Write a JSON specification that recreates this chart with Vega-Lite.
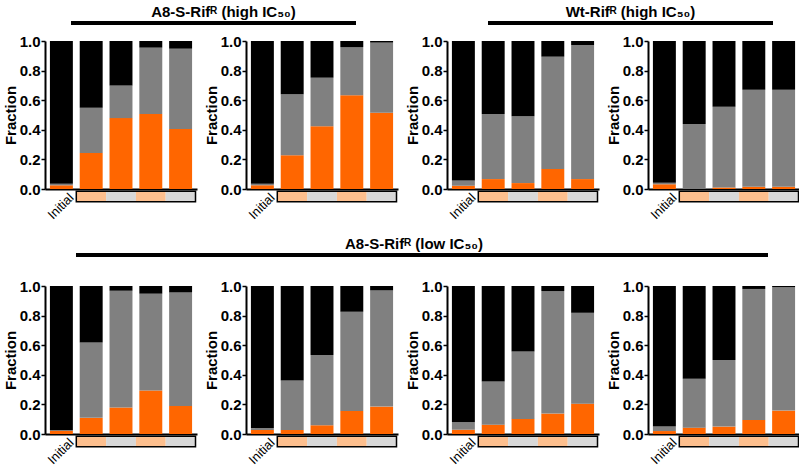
{
  "$schema": "https://vega.github.io/schema/vega-lite/v6.json",
  "padding": {"left": 3, "top": 1, "right": 0, "bottom": 0},
  "config": {
    "view": {"stroke": null},
    "font": "Liberation Sans",
    "axis": {"labelFont": "Liberation Sans", "titleFont": "Liberation Sans", "labelColor": "black", "titleColor": "black", "domainColor": "black", "tickColor": "black", "grid": false},
    "axisY": {"labelFontSize": 15, "labelFontWeight": "bold", "titleFontSize": 15, "titleFontWeight": "bold", "domainWidth": 2, "tickWidth": 1.5, "tickSize": 4, "labelPadding": 1, "titlePadding": 1, "labelOverlap": false},
    "axisX": {"domainWidth": 2, "labelFontSize": 13, "labelFontWeight": "normal", "labelOverlap": false}
  },
  "datasets": {
    "strip": [
      {"stage": "T1", "cond": "treated"},
      {"stage": "T2", "cond": "untreated"},
      {"stage": "T3", "cond": "treated"},
      {"stage": "T4", "cond": "untreated"}
    ],
    "bars": [
      {"panel": "A1", "stage": "Initial", "comp": "orange", "frac": 0.025}, {"panel": "A1", "stage": "Initial", "comp": "gray", "frac": 0.01}, {"panel": "A1", "stage": "Initial", "comp": "black", "frac": 0.965},
      {"panel": "A1", "stage": "T1", "comp": "orange", "frac": 0.244}, {"panel": "A1", "stage": "T1", "comp": "gray", "frac": 0.305}, {"panel": "A1", "stage": "T1", "comp": "black", "frac": 0.451},
      {"panel": "A1", "stage": "T2", "comp": "orange", "frac": 0.479}, {"panel": "A1", "stage": "T2", "comp": "gray", "frac": 0.221}, {"panel": "A1", "stage": "T2", "comp": "black", "frac": 0.3},
      {"panel": "A1", "stage": "T3", "comp": "orange", "frac": 0.506}, {"panel": "A1", "stage": "T3", "comp": "gray", "frac": 0.449}, {"panel": "A1", "stage": "T3", "comp": "black", "frac": 0.045},
      {"panel": "A1", "stage": "T4", "comp": "orange", "frac": 0.406}, {"panel": "A1", "stage": "T4", "comp": "gray", "frac": 0.542}, {"panel": "A1", "stage": "T4", "comp": "black", "frac": 0.052},

      {"panel": "A2", "stage": "Initial", "comp": "orange", "frac": 0.025}, {"panel": "A2", "stage": "Initial", "comp": "gray", "frac": 0.01}, {"panel": "A2", "stage": "Initial", "comp": "black", "frac": 0.965},
      {"panel": "A2", "stage": "T1", "comp": "orange", "frac": 0.228}, {"panel": "A2", "stage": "T1", "comp": "gray", "frac": 0.413}, {"panel": "A2", "stage": "T1", "comp": "black", "frac": 0.359},
      {"panel": "A2", "stage": "T2", "comp": "orange", "frac": 0.424}, {"panel": "A2", "stage": "T2", "comp": "gray", "frac": 0.328}, {"panel": "A2", "stage": "T2", "comp": "black", "frac": 0.248},
      {"panel": "A2", "stage": "T3", "comp": "orange", "frac": 0.634}, {"panel": "A2", "stage": "T3", "comp": "gray", "frac": 0.325}, {"panel": "A2", "stage": "T3", "comp": "black", "frac": 0.041},
      {"panel": "A2", "stage": "T4", "comp": "orange", "frac": 0.515}, {"panel": "A2", "stage": "T4", "comp": "gray", "frac": 0.474}, {"panel": "A2", "stage": "T4", "comp": "black", "frac": 0.011},

      {"panel": "W1", "stage": "Initial", "comp": "orange", "frac": 0.022}, {"panel": "W1", "stage": "Initial", "comp": "gray", "frac": 0.036}, {"panel": "W1", "stage": "Initial", "comp": "black", "frac": 0.942},
      {"panel": "W1", "stage": "T1", "comp": "orange", "frac": 0.067}, {"panel": "W1", "stage": "T1", "comp": "gray", "frac": 0.439}, {"panel": "W1", "stage": "T1", "comp": "black", "frac": 0.494},
      {"panel": "W1", "stage": "T2", "comp": "orange", "frac": 0.04}, {"panel": "W1", "stage": "T2", "comp": "gray", "frac": 0.452}, {"panel": "W1", "stage": "T2", "comp": "black", "frac": 0.508},
      {"panel": "W1", "stage": "T3", "comp": "orange", "frac": 0.135}, {"panel": "W1", "stage": "T3", "comp": "gray", "frac": 0.759}, {"panel": "W1", "stage": "T3", "comp": "black", "frac": 0.106},
      {"panel": "W1", "stage": "T4", "comp": "orange", "frac": 0.067}, {"panel": "W1", "stage": "T4", "comp": "gray", "frac": 0.906}, {"panel": "W1", "stage": "T4", "comp": "black", "frac": 0.027},

      {"panel": "W2", "stage": "Initial", "comp": "orange", "frac": 0.032}, {"panel": "W2", "stage": "Initial", "comp": "gray", "frac": 0.01}, {"panel": "W2", "stage": "Initial", "comp": "black", "frac": 0.958},
      {"panel": "W2", "stage": "T1", "comp": "orange", "frac": 0.0}, {"panel": "W2", "stage": "T1", "comp": "gray", "frac": 0.44}, {"panel": "W2", "stage": "T1", "comp": "black", "frac": 0.56},
      {"panel": "W2", "stage": "T2", "comp": "orange", "frac": 0.01}, {"panel": "W2", "stage": "T2", "comp": "gray", "frac": 0.545}, {"panel": "W2", "stage": "T2", "comp": "black", "frac": 0.445},
      {"panel": "W2", "stage": "T3", "comp": "orange", "frac": 0.015}, {"panel": "W2", "stage": "T3", "comp": "gray", "frac": 0.655}, {"panel": "W2", "stage": "T3", "comp": "black", "frac": 0.33},
      {"panel": "W2", "stage": "T4", "comp": "orange", "frac": 0.015}, {"panel": "W2", "stage": "T4", "comp": "gray", "frac": 0.655}, {"panel": "W2", "stage": "T4", "comp": "black", "frac": 0.33},

      {"panel": "L1", "stage": "Initial", "comp": "orange", "frac": 0.022}, {"panel": "L1", "stage": "Initial", "comp": "gray", "frac": 0.004}, {"panel": "L1", "stage": "Initial", "comp": "black", "frac": 0.974},
      {"panel": "L1", "stage": "T1", "comp": "orange", "frac": 0.109}, {"panel": "L1", "stage": "T1", "comp": "gray", "frac": 0.509}, {"panel": "L1", "stage": "T1", "comp": "black", "frac": 0.382},
      {"panel": "L1", "stage": "T2", "comp": "orange", "frac": 0.179}, {"panel": "L1", "stage": "T2", "comp": "gray", "frac": 0.789}, {"panel": "L1", "stage": "T2", "comp": "black", "frac": 0.032},
      {"panel": "L1", "stage": "T3", "comp": "orange", "frac": 0.294}, {"panel": "L1", "stage": "T3", "comp": "gray", "frac": 0.654}, {"panel": "L1", "stage": "T3", "comp": "black", "frac": 0.052},
      {"panel": "L1", "stage": "T4", "comp": "orange", "frac": 0.19}, {"panel": "L1", "stage": "T4", "comp": "gray", "frac": 0.767}, {"panel": "L1", "stage": "T4", "comp": "black", "frac": 0.043},

      {"panel": "L2", "stage": "Initial", "comp": "orange", "frac": 0.027}, {"panel": "L2", "stage": "Initial", "comp": "gray", "frac": 0.013}, {"panel": "L2", "stage": "Initial", "comp": "black", "frac": 0.96},
      {"panel": "L2", "stage": "T1", "comp": "orange", "frac": 0.027}, {"panel": "L2", "stage": "T1", "comp": "gray", "frac": 0.334}, {"panel": "L2", "stage": "T1", "comp": "black", "frac": 0.639},
      {"panel": "L2", "stage": "T2", "comp": "orange", "frac": 0.059}, {"panel": "L2", "stage": "T2", "comp": "gray", "frac": 0.474}, {"panel": "L2", "stage": "T2", "comp": "black", "frac": 0.467},
      {"panel": "L2", "stage": "T3", "comp": "orange", "frac": 0.156}, {"panel": "L2", "stage": "T3", "comp": "gray", "frac": 0.67}, {"panel": "L2", "stage": "T3", "comp": "black", "frac": 0.174},
      {"panel": "L2", "stage": "T4", "comp": "orange", "frac": 0.185}, {"panel": "L2", "stage": "T4", "comp": "gray", "frac": 0.785}, {"panel": "L2", "stage": "T4", "comp": "black", "frac": 0.03},

      {"panel": "L3", "stage": "Initial", "comp": "orange", "frac": 0.029}, {"panel": "L3", "stage": "Initial", "comp": "gray", "frac": 0.05}, {"panel": "L3", "stage": "Initial", "comp": "black", "frac": 0.921},
      {"panel": "L3", "stage": "T1", "comp": "orange", "frac": 0.063}, {"panel": "L3", "stage": "T1", "comp": "gray", "frac": 0.291}, {"panel": "L3", "stage": "T1", "comp": "black", "frac": 0.646},
      {"panel": "L3", "stage": "T2", "comp": "orange", "frac": 0.102}, {"panel": "L3", "stage": "T2", "comp": "gray", "frac": 0.456}, {"panel": "L3", "stage": "T2", "comp": "black", "frac": 0.442},
      {"panel": "L3", "stage": "T3", "comp": "orange", "frac": 0.138}, {"panel": "L3", "stage": "T3", "comp": "gray", "frac": 0.828}, {"panel": "L3", "stage": "T3", "comp": "black", "frac": 0.034},
      {"panel": "L3", "stage": "T4", "comp": "orange", "frac": 0.205}, {"panel": "L3", "stage": "T4", "comp": "gray", "frac": 0.614}, {"panel": "L3", "stage": "T4", "comp": "black", "frac": 0.181},

      {"panel": "L4", "stage": "Initial", "comp": "orange", "frac": 0.02}, {"panel": "L4", "stage": "Initial", "comp": "gray", "frac": 0.03}, {"panel": "L4", "stage": "Initial", "comp": "black", "frac": 0.95},
      {"panel": "L4", "stage": "T1", "comp": "orange", "frac": 0.043}, {"panel": "L4", "stage": "T1", "comp": "gray", "frac": 0.331}, {"panel": "L4", "stage": "T1", "comp": "black", "frac": 0.626},
      {"panel": "L4", "stage": "T2", "comp": "orange", "frac": 0.05}, {"panel": "L4", "stage": "T2", "comp": "gray", "frac": 0.45}, {"panel": "L4", "stage": "T2", "comp": "black", "frac": 0.5},
      {"panel": "L4", "stage": "T3", "comp": "orange", "frac": 0.095}, {"panel": "L4", "stage": "T3", "comp": "gray", "frac": 0.885}, {"panel": "L4", "stage": "T3", "comp": "black", "frac": 0.02},
      {"panel": "L4", "stage": "T4", "comp": "orange", "frac": 0.158}, {"panel": "L4", "stage": "T4", "comp": "gray", "frac": 0.835}, {"panel": "L4", "stage": "T4", "comp": "black", "frac": 0.007}
    ]
  },
  "spacing": 11,
  "vconcat": [
    {
      "spacing": 9,
      "vconcat": [
        {
          "spacing": 0,
          "hconcat": [
            {"width": 24, "height": 21, "data": {"values": [{}]}, "mark": {"type": "rule", "opacity": 0}, "encoding": {}},
            {
              "width": 285, "height": 21,
              "data": {"values": [{"label": "A8-S-Rifᴿ (high IC₅₀)"}]},
              "layer": [
                {"mark": {"type": "rule", "strokeWidth": 4, "color": "black"},
                 "encoding": {"x": {"datum": 0, "type": "quantitative", "scale": {"domain": [0, 1]}, "axis": null}, "x2": {"datum": 1},
                   "y": {"datum": 0, "type": "quantitative", "scale": {"domain": [0, 1]}, "axis": null}}},
                {"mark": {"type": "text", "font": "Liberation Sans", "fontSize": 15, "fontWeight": "bold", "baseline": "alphabetic", "dy": -6, "dx": 10},
                 "encoding": {"x": {"datum": 0.5, "type": "quantitative", "axis": null}, "y": {"datum": 0, "type": "quantitative", "axis": null}, "text": {"field": "label"}}}
              ]
            },
            {"width": 127, "height": 21, "data": {"values": [{}]}, "mark": {"type": "rule", "opacity": 0}, "encoding": {}},
            {
              "width": 285, "height": 21,
              "data": {"values": [{"label": "Wt-Rifᴿ (high IC₅₀)"}]},
              "layer": [
                {"mark": {"type": "rule", "strokeWidth": 4, "color": "black"},
                 "encoding": {"x": {"datum": 0, "type": "quantitative", "scale": {"domain": [0, 1]}, "axis": null}, "x2": {"datum": 1},
                   "y": {"datum": 0, "type": "quantitative", "scale": {"domain": [0, 1]}, "axis": null}}},
                {"mark": {"type": "text", "font": "Liberation Sans", "fontSize": 15, "fontWeight": "bold", "baseline": "alphabetic", "dy": -6},
                 "encoding": {"x": {"datum": 0.5, "type": "quantitative", "axis": null}, "y": {"datum": 0, "type": "quantitative", "axis": null}, "text": {"field": "label"}}}
              ]
            }
          ]
        },
        {
          "spacing": 7,
          "hconcat": [
            {"width": 152, "height": 148, "layer": [
              {"data": {"name": "bars"}, "transform": [{"filter": "datum.panel == 'A1'"}], "mark": {"type": "bar", "width": {"band": 0.77}},
               "encoding": {
                 "x": {"field": "stage", "type": "nominal", "scale": {"domain": ["Initial", "T1", "T2", "T3", "T4"], "paddingInner": 0, "paddingOuter": 0.05}, "axis": {"title": null, "ticks": false, "labelExpr": "datum.value == 'Initial' ? 'Initial' : ''", "labelAngle": -45, "labelAlign": "right", "labelBaseline": "top", "labelOffset": 6, "labelPadding": 2}},
                 "y": {"field": "frac", "type": "quantitative", "stack": "zero", "scale": {"domain": [0, 1]}, "axis": {"title": "Fraction", "tickCount": 5, "format": ".1f", "labelOverlap": false}},
                 "color": {"field": "comp", "type": "nominal", "scale": {"domain": ["orange", "gray", "black"], "range": ["#FF6600", "#808080", "#000000"]}, "legend": null},
                 "order": {"field": "comp", "sort": "descending"}}},
              {"data": {"name": "strip"}, "mark": {"type": "bar", "width": {"band": 1}},
               "encoding": {"x": {"field": "stage", "type": "nominal", "scale": {"domain": ["Initial", "T1", "T2", "T3", "T4"]}},
                 "y": {"datum": -0.016, "type": "quantitative", "scale": {"domain": [0, 1]}}, "y2": {"datum": -0.086},
                 "fill": {"field": "cond", "type": "nominal", "scale": {"domain": ["treated", "untreated"], "range": ["#FDBF8E", "#D8D8D8"]}, "legend": null}}},
              {"data": {"values": [{"frame": "strip"}]}, "mark": {"type": "rect", "fillOpacity": 0, "stroke": "black", "strokeWidth": 1.5},
               "encoding": {"x": {"datum": "T1", "type": "nominal", "bandPosition": 0, "scale": {"domain": ["Initial", "T1", "T2", "T3", "T4"]}}, "x2": {"datum": "T4", "bandPosition": 1},
                 "y": {"datum": -0.016, "type": "quantitative", "scale": {"domain": [0, 1]}}, "y2": {"datum": -0.086}}}
            ]},
            {"width": 152, "height": 148, "layer": [
              {"data": {"name": "bars"}, "transform": [{"filter": "datum.panel == 'A2'"}], "mark": {"type": "bar", "width": {"band": 0.77}},
               "encoding": {
                 "x": {"field": "stage", "type": "nominal", "scale": {"domain": ["Initial", "T1", "T2", "T3", "T4"], "paddingInner": 0, "paddingOuter": 0.05}, "axis": {"title": null, "ticks": false, "labelExpr": "datum.value == 'Initial' ? 'Initial' : ''", "labelAngle": -45, "labelAlign": "right", "labelBaseline": "top", "labelOffset": 6, "labelPadding": 2}},
                 "y": {"field": "frac", "type": "quantitative", "stack": "zero", "scale": {"domain": [0, 1]}, "axis": {"title": "Fraction", "tickCount": 5, "format": ".1f", "labelOverlap": false}},
                 "color": {"field": "comp", "type": "nominal", "scale": {"domain": ["orange", "gray", "black"], "range": ["#FF6600", "#808080", "#000000"]}, "legend": null},
                 "order": {"field": "comp", "sort": "descending"}}},
              {"data": {"name": "strip"}, "mark": {"type": "bar", "width": {"band": 1}},
               "encoding": {"x": {"field": "stage", "type": "nominal", "scale": {"domain": ["Initial", "T1", "T2", "T3", "T4"]}},
                 "y": {"datum": -0.016, "type": "quantitative", "scale": {"domain": [0, 1]}}, "y2": {"datum": -0.086},
                 "fill": {"field": "cond", "type": "nominal", "scale": {"domain": ["treated", "untreated"], "range": ["#FDBF8E", "#D8D8D8"]}, "legend": null}}},
              {"data": {"values": [{"frame": "strip"}]}, "mark": {"type": "rect", "fillOpacity": 0, "stroke": "black", "strokeWidth": 1.5},
               "encoding": {"x": {"datum": "T1", "type": "nominal", "bandPosition": 0, "scale": {"domain": ["Initial", "T1", "T2", "T3", "T4"]}}, "x2": {"datum": "T4", "bandPosition": 1},
                 "y": {"datum": -0.016, "type": "quantitative", "scale": {"domain": [0, 1]}}, "y2": {"datum": -0.086}}}
            ]},
            {"width": 152, "height": 148, "layer": [
              {"data": {"name": "bars"}, "transform": [{"filter": "datum.panel == 'W1'"}], "mark": {"type": "bar", "width": {"band": 0.77}},
               "encoding": {
                 "x": {"field": "stage", "type": "nominal", "scale": {"domain": ["Initial", "T1", "T2", "T3", "T4"], "paddingInner": 0, "paddingOuter": 0.05}, "axis": {"title": null, "ticks": false, "labelExpr": "datum.value == 'Initial' ? 'Initial' : ''", "labelAngle": -45, "labelAlign": "right", "labelBaseline": "top", "labelOffset": 6, "labelPadding": 2}},
                 "y": {"field": "frac", "type": "quantitative", "stack": "zero", "scale": {"domain": [0, 1]}, "axis": {"title": "Fraction", "tickCount": 5, "format": ".1f", "labelOverlap": false}},
                 "color": {"field": "comp", "type": "nominal", "scale": {"domain": ["orange", "gray", "black"], "range": ["#FF6600", "#808080", "#000000"]}, "legend": null},
                 "order": {"field": "comp", "sort": "descending"}}},
              {"data": {"name": "strip"}, "mark": {"type": "bar", "width": {"band": 1}},
               "encoding": {"x": {"field": "stage", "type": "nominal", "scale": {"domain": ["Initial", "T1", "T2", "T3", "T4"]}},
                 "y": {"datum": -0.016, "type": "quantitative", "scale": {"domain": [0, 1]}}, "y2": {"datum": -0.086},
                 "fill": {"field": "cond", "type": "nominal", "scale": {"domain": ["treated", "untreated"], "range": ["#FDBF8E", "#D8D8D8"]}, "legend": null}}},
              {"data": {"values": [{"frame": "strip"}]}, "mark": {"type": "rect", "fillOpacity": 0, "stroke": "black", "strokeWidth": 1.5},
               "encoding": {"x": {"datum": "T1", "type": "nominal", "bandPosition": 0, "scale": {"domain": ["Initial", "T1", "T2", "T3", "T4"]}}, "x2": {"datum": "T4", "bandPosition": 1},
                 "y": {"datum": -0.016, "type": "quantitative", "scale": {"domain": [0, 1]}}, "y2": {"datum": -0.086}}}
            ]},
            {"width": 152, "height": 148, "layer": [
              {"data": {"name": "bars"}, "transform": [{"filter": "datum.panel == 'W2'"}], "mark": {"type": "bar", "width": {"band": 0.77}},
               "encoding": {
                 "x": {"field": "stage", "type": "nominal", "scale": {"domain": ["Initial", "T1", "T2", "T3", "T4"], "paddingInner": 0, "paddingOuter": 0.05}, "axis": {"title": null, "ticks": false, "labelExpr": "datum.value == 'Initial' ? 'Initial' : ''", "labelAngle": -45, "labelAlign": "right", "labelBaseline": "top", "labelOffset": 6, "labelPadding": 2}},
                 "y": {"field": "frac", "type": "quantitative", "stack": "zero", "scale": {"domain": [0, 1]}, "axis": {"title": "Fraction", "tickCount": 5, "format": ".1f", "labelOverlap": false}},
                 "color": {"field": "comp", "type": "nominal", "scale": {"domain": ["orange", "gray", "black"], "range": ["#FF6600", "#808080", "#000000"]}, "legend": null},
                 "order": {"field": "comp", "sort": "descending"}}},
              {"data": {"name": "strip"}, "mark": {"type": "bar", "width": {"band": 1}},
               "encoding": {"x": {"field": "stage", "type": "nominal", "scale": {"domain": ["Initial", "T1", "T2", "T3", "T4"]}},
                 "y": {"datum": -0.016, "type": "quantitative", "scale": {"domain": [0, 1]}}, "y2": {"datum": -0.086},
                 "fill": {"field": "cond", "type": "nominal", "scale": {"domain": ["treated", "untreated"], "range": ["#FDBF8E", "#D8D8D8"]}, "legend": null}}},
              {"data": {"values": [{"frame": "strip"}]}, "mark": {"type": "rect", "fillOpacity": 0, "stroke": "black", "strokeWidth": 1.5},
               "encoding": {"x": {"datum": "T1", "type": "nominal", "bandPosition": 0, "scale": {"domain": ["Initial", "T1", "T2", "T3", "T4"]}}, "x2": {"datum": "T4", "bandPosition": 1},
                 "y": {"datum": -0.016, "type": "quantitative", "scale": {"domain": [0, 1]}}, "y2": {"datum": -0.086}}}
            ]}
          ]
        }
      ]
    },
    {
      "spacing": 22,
      "vconcat": [
        {
          "spacing": 0,
          "hconcat": [
            {"width": 29, "height": 21, "data": {"values": [{}]}, "mark": {"type": "rule", "opacity": 0}, "encoding": {}},
            {
              "width": 692, "height": 21,
              "data": {"values": [{"label": "A8-S-Rifᴿ (low IC₅₀)"}]},
              "layer": [
                {"mark": {"type": "rule", "strokeWidth": 4, "color": "black"},
                 "encoding": {"x": {"datum": 0, "type": "quantitative", "scale": {"domain": [0, 1]}, "axis": null}, "x2": {"datum": 1},
                   "y": {"datum": 0, "type": "quantitative", "scale": {"domain": [0, 1]}, "axis": null}}},
                {"mark": {"type": "text", "font": "Liberation Sans", "fontSize": 15, "fontWeight": "bold", "baseline": "alphabetic", "dy": -6, "dx": -8},
                 "encoding": {"x": {"datum": 0.5, "type": "quantitative", "axis": null}, "y": {"datum": 0, "type": "quantitative", "axis": null}, "text": {"field": "label"}}}
              ]
            }
          ]
        },
        {
          "spacing": 7,
          "hconcat": [
            {"width": 152, "height": 148, "layer": [
              {"data": {"name": "bars"}, "transform": [{"filter": "datum.panel == 'L1'"}], "mark": {"type": "bar", "width": {"band": 0.77}},
               "encoding": {
                 "x": {"field": "stage", "type": "nominal", "scale": {"domain": ["Initial", "T1", "T2", "T3", "T4"], "paddingInner": 0, "paddingOuter": 0.05}, "axis": {"title": null, "ticks": false, "labelExpr": "datum.value == 'Initial' ? 'Initial' : ''", "labelAngle": -45, "labelAlign": "right", "labelBaseline": "top", "labelOffset": 6, "labelPadding": 2}},
                 "y": {"field": "frac", "type": "quantitative", "stack": "zero", "scale": {"domain": [0, 1]}, "axis": {"title": "Fraction", "tickCount": 5, "format": ".1f", "labelOverlap": false}},
                 "color": {"field": "comp", "type": "nominal", "scale": {"domain": ["orange", "gray", "black"], "range": ["#FF6600", "#808080", "#000000"]}, "legend": null},
                 "order": {"field": "comp", "sort": "descending"}}},
              {"data": {"name": "strip"}, "mark": {"type": "bar", "width": {"band": 1}},
               "encoding": {"x": {"field": "stage", "type": "nominal", "scale": {"domain": ["Initial", "T1", "T2", "T3", "T4"]}},
                 "y": {"datum": -0.016, "type": "quantitative", "scale": {"domain": [0, 1]}}, "y2": {"datum": -0.086},
                 "fill": {"field": "cond", "type": "nominal", "scale": {"domain": ["treated", "untreated"], "range": ["#FDBF8E", "#D8D8D8"]}, "legend": null}}},
              {"data": {"values": [{"frame": "strip"}]}, "mark": {"type": "rect", "fillOpacity": 0, "stroke": "black", "strokeWidth": 1.5},
               "encoding": {"x": {"datum": "T1", "type": "nominal", "bandPosition": 0, "scale": {"domain": ["Initial", "T1", "T2", "T3", "T4"]}}, "x2": {"datum": "T4", "bandPosition": 1},
                 "y": {"datum": -0.016, "type": "quantitative", "scale": {"domain": [0, 1]}}, "y2": {"datum": -0.086}}}
            ]},
            {"width": 152, "height": 148, "layer": [
              {"data": {"name": "bars"}, "transform": [{"filter": "datum.panel == 'L2'"}], "mark": {"type": "bar", "width": {"band": 0.77}},
               "encoding": {
                 "x": {"field": "stage", "type": "nominal", "scale": {"domain": ["Initial", "T1", "T2", "T3", "T4"], "paddingInner": 0, "paddingOuter": 0.05}, "axis": {"title": null, "ticks": false, "labelExpr": "datum.value == 'Initial' ? 'Initial' : ''", "labelAngle": -45, "labelAlign": "right", "labelBaseline": "top", "labelOffset": 6, "labelPadding": 2}},
                 "y": {"field": "frac", "type": "quantitative", "stack": "zero", "scale": {"domain": [0, 1]}, "axis": {"title": "Fraction", "tickCount": 5, "format": ".1f", "labelOverlap": false}},
                 "color": {"field": "comp", "type": "nominal", "scale": {"domain": ["orange", "gray", "black"], "range": ["#FF6600", "#808080", "#000000"]}, "legend": null},
                 "order": {"field": "comp", "sort": "descending"}}},
              {"data": {"name": "strip"}, "mark": {"type": "bar", "width": {"band": 1}},
               "encoding": {"x": {"field": "stage", "type": "nominal", "scale": {"domain": ["Initial", "T1", "T2", "T3", "T4"]}},
                 "y": {"datum": -0.016, "type": "quantitative", "scale": {"domain": [0, 1]}}, "y2": {"datum": -0.086},
                 "fill": {"field": "cond", "type": "nominal", "scale": {"domain": ["treated", "untreated"], "range": ["#FDBF8E", "#D8D8D8"]}, "legend": null}}},
              {"data": {"values": [{"frame": "strip"}]}, "mark": {"type": "rect", "fillOpacity": 0, "stroke": "black", "strokeWidth": 1.5},
               "encoding": {"x": {"datum": "T1", "type": "nominal", "bandPosition": 0, "scale": {"domain": ["Initial", "T1", "T2", "T3", "T4"]}}, "x2": {"datum": "T4", "bandPosition": 1},
                 "y": {"datum": -0.016, "type": "quantitative", "scale": {"domain": [0, 1]}}, "y2": {"datum": -0.086}}}
            ]},
            {"width": 152, "height": 148, "layer": [
              {"data": {"name": "bars"}, "transform": [{"filter": "datum.panel == 'L3'"}], "mark": {"type": "bar", "width": {"band": 0.77}},
               "encoding": {
                 "x": {"field": "stage", "type": "nominal", "scale": {"domain": ["Initial", "T1", "T2", "T3", "T4"], "paddingInner": 0, "paddingOuter": 0.05}, "axis": {"title": null, "ticks": false, "labelExpr": "datum.value == 'Initial' ? 'Initial' : ''", "labelAngle": -45, "labelAlign": "right", "labelBaseline": "top", "labelOffset": 6, "labelPadding": 2}},
                 "y": {"field": "frac", "type": "quantitative", "stack": "zero", "scale": {"domain": [0, 1]}, "axis": {"title": "Fraction", "tickCount": 5, "format": ".1f", "labelOverlap": false}},
                 "color": {"field": "comp", "type": "nominal", "scale": {"domain": ["orange", "gray", "black"], "range": ["#FF6600", "#808080", "#000000"]}, "legend": null},
                 "order": {"field": "comp", "sort": "descending"}}},
              {"data": {"name": "strip"}, "mark": {"type": "bar", "width": {"band": 1}},
               "encoding": {"x": {"field": "stage", "type": "nominal", "scale": {"domain": ["Initial", "T1", "T2", "T3", "T4"]}},
                 "y": {"datum": -0.016, "type": "quantitative", "scale": {"domain": [0, 1]}}, "y2": {"datum": -0.086},
                 "fill": {"field": "cond", "type": "nominal", "scale": {"domain": ["treated", "untreated"], "range": ["#FDBF8E", "#D8D8D8"]}, "legend": null}}},
              {"data": {"values": [{"frame": "strip"}]}, "mark": {"type": "rect", "fillOpacity": 0, "stroke": "black", "strokeWidth": 1.5},
               "encoding": {"x": {"datum": "T1", "type": "nominal", "bandPosition": 0, "scale": {"domain": ["Initial", "T1", "T2", "T3", "T4"]}}, "x2": {"datum": "T4", "bandPosition": 1},
                 "y": {"datum": -0.016, "type": "quantitative", "scale": {"domain": [0, 1]}}, "y2": {"datum": -0.086}}}
            ]},
            {"width": 152, "height": 148, "layer": [
              {"data": {"name": "bars"}, "transform": [{"filter": "datum.panel == 'L4'"}], "mark": {"type": "bar", "width": {"band": 0.77}},
               "encoding": {
                 "x": {"field": "stage", "type": "nominal", "scale": {"domain": ["Initial", "T1", "T2", "T3", "T4"], "paddingInner": 0, "paddingOuter": 0.05}, "axis": {"title": null, "ticks": false, "labelExpr": "datum.value == 'Initial' ? 'Initial' : ''", "labelAngle": -45, "labelAlign": "right", "labelBaseline": "top", "labelOffset": 6, "labelPadding": 2}},
                 "y": {"field": "frac", "type": "quantitative", "stack": "zero", "scale": {"domain": [0, 1]}, "axis": {"title": "Fraction", "tickCount": 5, "format": ".1f", "labelOverlap": false}},
                 "color": {"field": "comp", "type": "nominal", "scale": {"domain": ["orange", "gray", "black"], "range": ["#FF6600", "#808080", "#000000"]}, "legend": null},
                 "order": {"field": "comp", "sort": "descending"}}},
              {"data": {"name": "strip"}, "mark": {"type": "bar", "width": {"band": 1}},
               "encoding": {"x": {"field": "stage", "type": "nominal", "scale": {"domain": ["Initial", "T1", "T2", "T3", "T4"]}},
                 "y": {"datum": -0.016, "type": "quantitative", "scale": {"domain": [0, 1]}}, "y2": {"datum": -0.086},
                 "fill": {"field": "cond", "type": "nominal", "scale": {"domain": ["treated", "untreated"], "range": ["#FDBF8E", "#D8D8D8"]}, "legend": null}}},
              {"data": {"values": [{"frame": "strip"}]}, "mark": {"type": "rect", "fillOpacity": 0, "stroke": "black", "strokeWidth": 1.5},
               "encoding": {"x": {"datum": "T1", "type": "nominal", "bandPosition": 0, "scale": {"domain": ["Initial", "T1", "T2", "T3", "T4"]}}, "x2": {"datum": "T4", "bandPosition": 1},
                 "y": {"datum": -0.016, "type": "quantitative", "scale": {"domain": [0, 1]}}, "y2": {"datum": -0.086}}}
            ]}
          ]
        }
      ]
    }
  ]
}
